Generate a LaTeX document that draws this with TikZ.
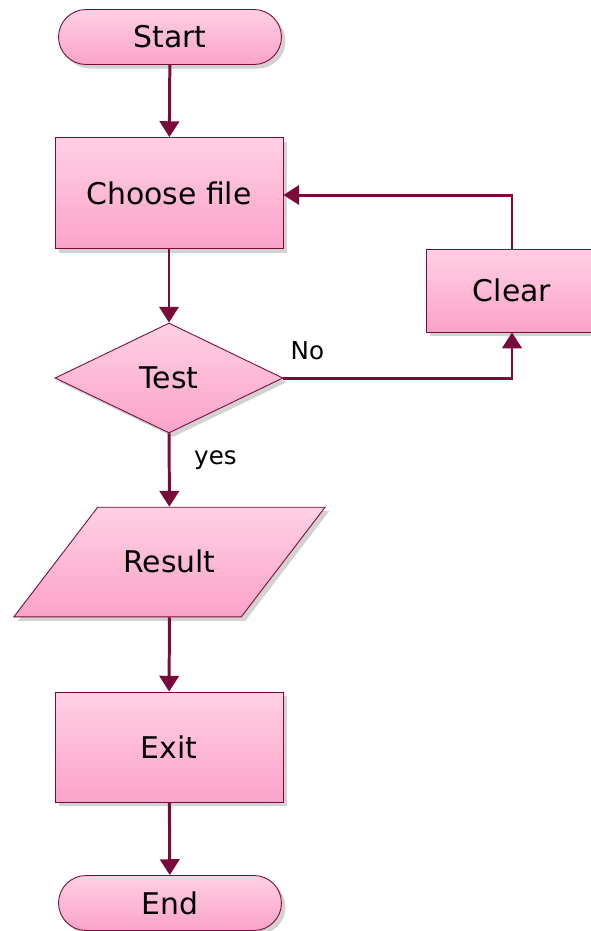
\documentclass[tikz,border=0pt]{standalone}
\usepackage{fontspec}
\setmainfont{DejaVu Sans}
\usepackage{xcolor}
\usepackage{tikz}
\usetikzlibrary{arrows.meta,positioning,shapes.geometric,shapes.misc,shadows}

\definecolor{wine}{HTML}{7A0A3A}
\definecolor{pinktop}{HTML}{FFD0E4}
\definecolor{pinkbot}{HTML}{FBA3C9}

\begin{document}
\begin{tikzpicture}[
  x=0.02cm,y=-0.02cm,
  font=\fontsize{17}{20}\selectfont,
  b/.style={draw=wine,line width=0.5pt,top color=pinktop,bottom color=pinkbot,
            inner sep=2pt,
            drop shadow={shadow xshift=2.3pt,shadow yshift=-2.3pt,fill=black!35}},
  t/.style={b,rounded rectangle,minimum width=4.6cm,minimum height=1.1cm},
  p/.style={b,rectangle,minimum width=4.56cm,minimum height=2.2cm},
  q/.style={b,diamond,minimum width=4.56cm,minimum height=2.2cm,inner sep=0pt},
  io/.style={b,trapezium,trapezium left angle=52.6,trapezium right angle=127.4,
             text height=12pt,text depth=0pt,inner xsep=14.6pt,inner ysep=25.2pt},
  l/.style={draw=wine,line width=1.7pt,-{Triangle[length=9pt,width=11pt]}},
  lbl/.style={font=\fontsize{14}{16}\selectfont,inner sep=2pt}]

\useasboundingbox (0,0) rectangle (591,931);

% main column
\node[t] (start)  at (170, 37)  {Start};
\node[p,minimum height=2.22cm] (choose) at (169,193) {Choose file};
\node[q] (test)   at (169,378)  {Test};
\node[io] (result) at (169.5,562) {Result};
\node[p] (exit)   at (169,747)  {Exit};
\node[t] (stop)   at (170,903)  {End};

% side branch
\node[p,minimum width=3.44cm,minimum height=1.66cm] (clear) at (512,290.5) {Clear};

\draw[l] (start) -- (choose);
\draw[l] (choose) -- (test);
\draw[l] (test) -- node[lbl,pos=0.36,right=0.4cm] {yes} (result);
\draw[l] (result) -- (exit);
\draw[l] (exit) -- (stop);
\draw[l] (test.east) -- node[lbl,pos=0.105,above=0.26cm] {No} (test.east -| clear) -- (clear);
\draw[l] (clear.north) |- ([yshift=-0.04cm]choose.east);
\end{tikzpicture}
\end{document}
